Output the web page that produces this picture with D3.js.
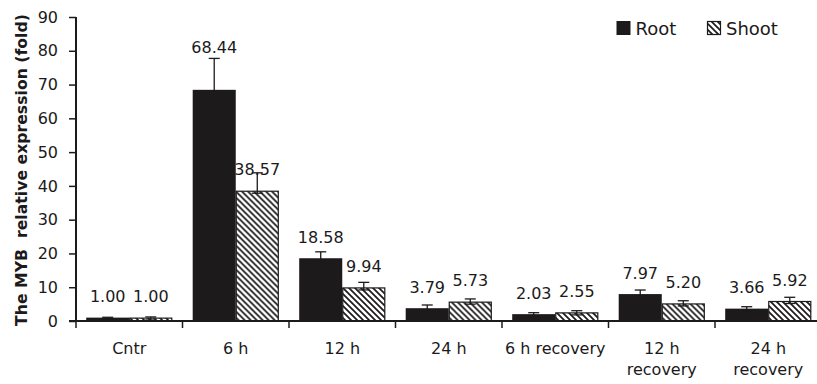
<!DOCTYPE html>
<html>
<head>
<meta charset="utf-8">
<script src="https://cdn.jsdelivr.net/npm/d3@7"></script>
<style>
  html, body { margin: 0; padding: 0; background: #fff; }
  svg { display: block; font-family: "DejaVu Sans", sans-serif; }
</style>
</head>
<body>
<svg id="chart" width="817" height="384"></svg>
<script>
// ---- data ----
const categories = ["Cntr", "6 h", "12 h", "24 h", "6 h recovery", "12 h recovery", "24 h recovery"];
const categoryLines = [["Cntr"], ["6 h"], ["12 h"], ["24 h"], ["6 h recovery"], ["12 h", "recovery"], ["24 h", "recovery"]];
const seriesNames = ["Root", "Shoot"];
const rootValues  = [1.00, 68.44, 18.58, 3.79, 2.03, 7.97, 3.66];
const shootValues = [1.00, 38.57, 9.94, 5.73, 2.55, 5.20, 5.92];
const rootErrors  = [0.1, 9.3, 1.9, 0.95, 0.43, 1.2, 0.57];
const shootErrors = [0.2, 5.3, 1.5, 0.8, 0.5, 0.8, 1.1];
const yTicks = [0, 10, 20, 30, 40, 50, 60, 70, 80, 90];
const yTitle = "The MYB  relative expression (fold)";

// ---- layout ----
const svg = d3.select("#chart");
const ink = "#1c1a1b";
const pLeft = 76, pRight = 821.5, pTop = 17, pBottom = 321;

const x0 = d3.scaleBand().domain(categories).range([pLeft, pRight]).padding(0);
const x1 = d3.scaleBand().domain(seriesNames).range([0, x0.bandwidth()]).paddingInner(0).paddingOuter(0.237);
const y = d3.scaleLinear().domain([0, 90]).range([pBottom, pTop]);

// hatch pattern
const defs = svg.append("defs");
const pat = defs.append("pattern").attr("id", "hatch")
  .attr("patternUnits", "userSpaceOnUse").attr("width", 6).attr("height", 6);
pat.append("rect").attr("width", 6).attr("height", 6).attr("fill", "#fff");
pat.append("path").attr("d", "M0,0 L6,6 M-1,5 L1,7 M5,-1 L7,1")
  .attr("stroke", ink).attr("stroke-width", 1.7);

const rows = categories.map((c, i) => ({
  cat: c,
  bars: [
    { s: "Root", v: rootValues[i], e: rootErrors[i] },
    { s: "Shoot", v: shootValues[i], e: shootErrors[i] }
  ]
}));

const groups = svg.append("g").selectAll("g").data(rows).join("g")
  .attr("transform", d => `translate(${x0(d.cat)},0)`);

// bars
groups.selectAll("rect.bar").data(d => d.bars).join("rect")
  .attr("class", "bar")
  .attr("x", d => x1(d.s) + (d.s === "Shoot" ? 0.5 : 0))
  .attr("width", d => x1.bandwidth() - (d.s === "Shoot" ? 1 : 0))
  .attr("y", d => y(d.v) + (d.s === "Shoot" ? 0.5 : 0))
  .attr("height", d => pBottom - y(d.v) - (d.s === "Shoot" ? 0.5 : 0))
  .attr("fill", d => d.s === "Root" ? ink : "url(#hatch)")
  .attr("stroke", d => d.s === "Root" ? "none" : ink)
  .attr("stroke-width", 1.2);

// error bars
const eb = groups.selectAll("g.err").data(d => d.bars).join("g").attr("class", "err")
  .attr("stroke", ink).attr("stroke-width", 1.3);
const cx = d => x1(d.s) + x1.bandwidth() / 2;
eb.append("line")
  .attr("x1", cx).attr("x2", cx)
  .attr("y1", d => Math.min(y(d.v) + 2.5, pBottom - 1)).attr("y2", d => y(d.v + d.e));
eb.append("line")
  .attr("x1", d => cx(d) - 5.5).attr("x2", d => cx(d) + 5.5)
  .attr("y1", d => y(d.v + d.e)).attr("y2", d => y(d.v + d.e));
eb.append("line")
  .attr("x1", d => cx(d) - 5.5).attr("x2", d => cx(d) + 5.5)
  .attr("y1", d => Math.min(y(d.v) + 2.5, pBottom - 1)).attr("y2", d => Math.min(y(d.v) + 2.5, pBottom - 1));

// value labels
groups.selectAll("text.val").data(d => d.bars).join("text")
  .attr("class", "val")
  .attr("x", cx)
  .attr("y", d => {
    const errPx = y(d.v) - y(d.v + d.e);
    return errPx > 25 ? y(d.v + d.e) - 5 : y(d.v) - 15.5;
  })
  .attr("text-anchor", "middle")
  .attr("font-size", 16)
  .attr("fill", ink)
  .text(d => d.v.toFixed(2));

// y axis
const yAxis = svg.append("g").attr("transform", `translate(${pLeft},0)`)
  .call(d3.axisLeft(y).tickValues(yTicks).tickSize(7).tickPadding(11).tickFormat(d3.format("d")));
yAxis.select(".domain").attr("stroke", ink).attr("stroke-width", 2).attr("d", `M0,${pTop}V${pBottom}`);
yAxis.selectAll(".tick line").attr("stroke", ink).attr("stroke-width", 1.5);
yAxis.selectAll(".tick text").attr("font-size", 16).attr("fill", ink).attr("font-family", "DejaVu Sans");

// x axis
const xAxis = svg.append("g").attr("transform", `translate(0,${pBottom})`);
xAxis.append("line").attr("x1", pLeft - 7).attr("x2", 817).attr("y1", 0).attr("y2", 0)
  .attr("stroke", ink).attr("stroke-width", 2);
xAxis.selectAll("line.tk").data(categories).join("line").attr("class", "tk")
  .attr("x1", d => x0(d)).attr("x2", d => x0(d)).attr("y1", 0).attr("y2", 7)
  .attr("stroke", ink).attr("stroke-width", 1.5);
const cl = xAxis.selectAll("text.cat").data(categories).join("text").attr("class", "cat")
  .attr("x", d => x0(d) + x0.bandwidth() / 2)
  .attr("y", 33)
  .attr("text-anchor", "middle").attr("font-size", 16).attr("fill", ink);
cl.selectAll("tspan").data((d, i) => categoryLines[i]).join("tspan")
  .attr("x", function() { return d3.select(this.parentNode).attr("x"); })
  .attr("dy", (d, i) => i === 0 ? 0 : 21)
  .text(d => d);

// y title
svg.append("text")
  .attr("transform", "translate(26.5,170) rotate(-90)")
  .attr("text-anchor", "middle")
  .attr("font-size", 15.7).attr("font-weight", "bold").attr("fill", ink)
  .style("white-space", "pre")
  .text(yTitle);

// legend
const legend = svg.append("g");
const legX = [616.5, 707];
seriesNames.forEach((s, i) => {
  legend.append("rect")
    .attr("x", legX[i] + (s === "Shoot" ? 0.5 : 0)).attr("y", 21 + (s === "Shoot" ? 0.5 : 0))
    .attr("width", 14 - (s === "Shoot" ? 1 : 0)).attr("height", 14 - (s === "Shoot" ? 1 : 0))
    .attr("fill", s === "Root" ? ink : "url(#hatch)")
    .attr("stroke", s === "Root" ? "none" : ink).attr("stroke-width", 1.2);
  legend.append("text")
    .attr("x", legX[i] + 19).attr("y", 34.5)
    .attr("font-size", 18).attr("fill", ink)
    .text(s);
});
</script>
</body>
</html>
